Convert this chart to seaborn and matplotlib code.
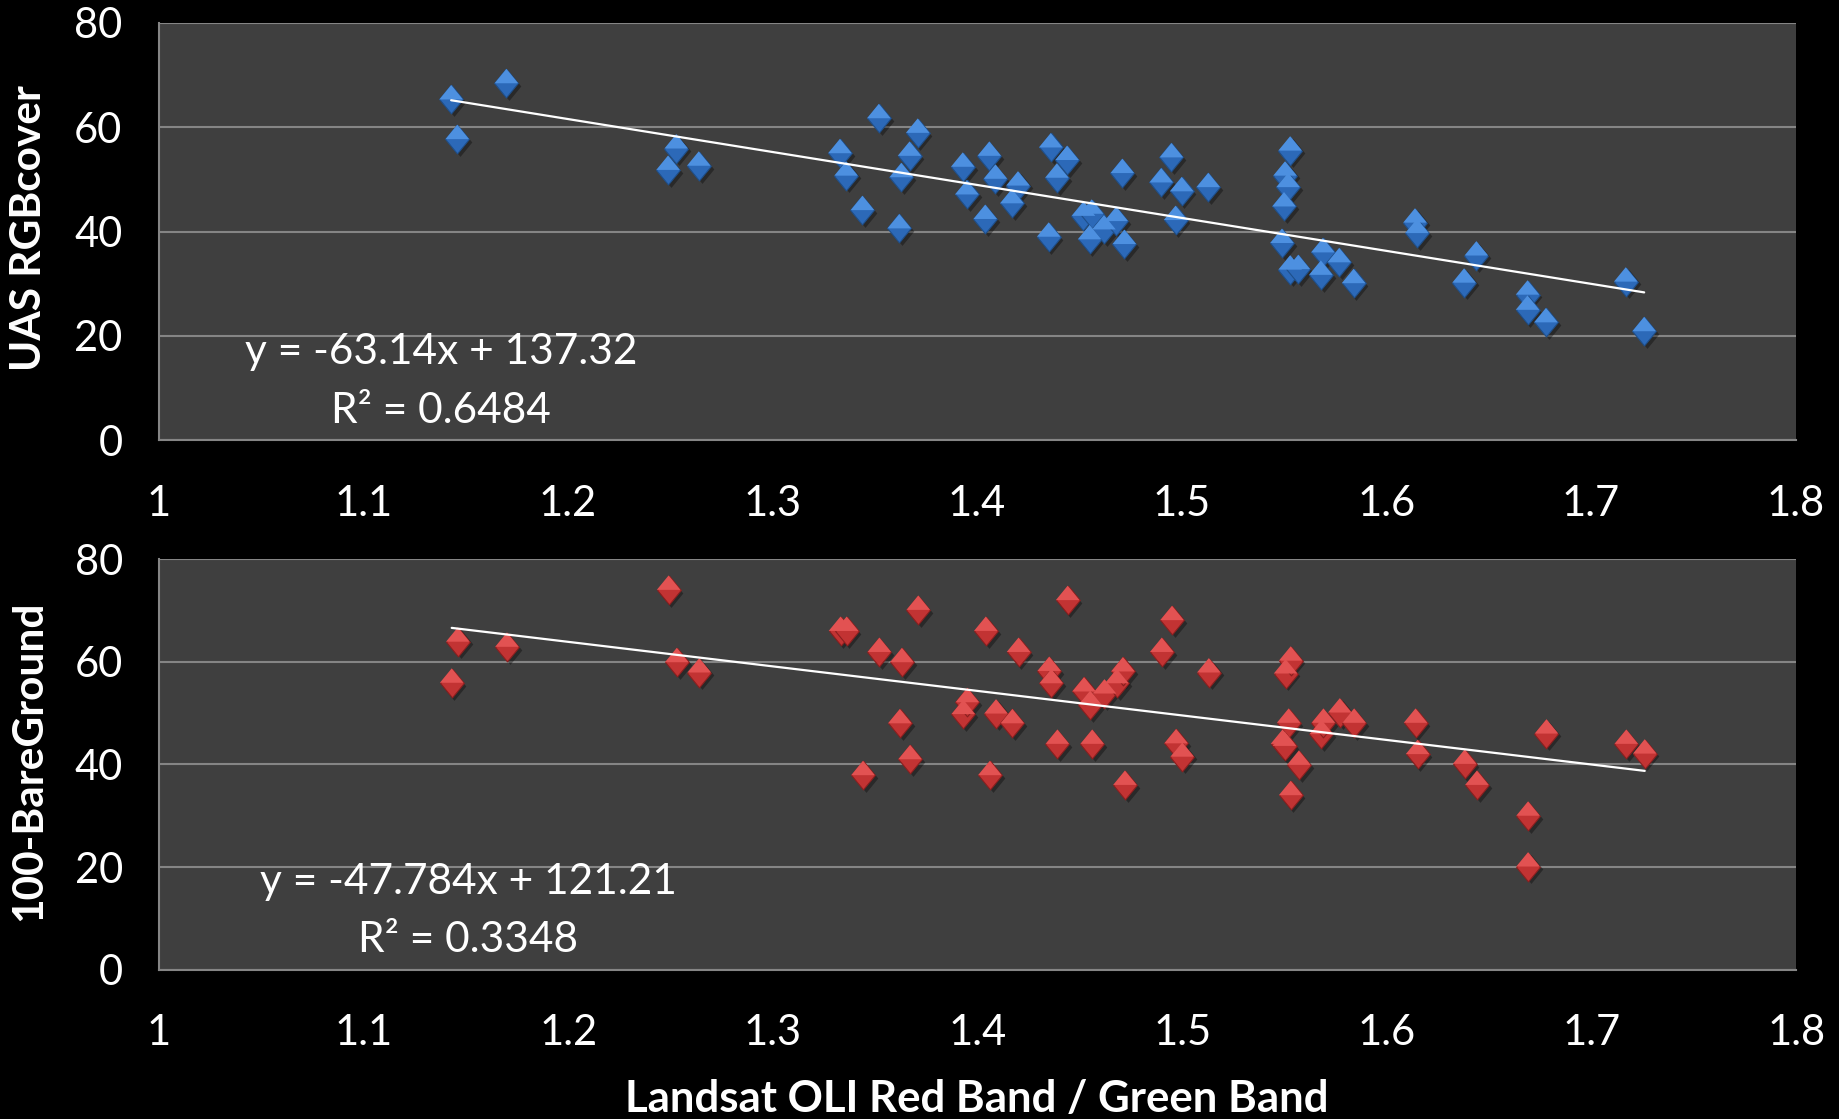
import numpy as np
import pandas as pd
import seaborn as sns
import matplotlib.pyplot as plt
from matplotlib.path import Path
from matplotlib.transforms import offset_copy

# Values (same samples on both panels)
ratio = [1.143, 1.146, 1.170, 1.249, 1.253, 1.264, 1.333, 1.336, 1.344, 1.352,
         1.362, 1.363, 1.367, 1.371, 1.393, 1.395, 1.404, 1.406, 1.409, 1.417,
         1.420, 1.435, 1.436, 1.439, 1.444, 1.452, 1.455, 1.456, 1.462, 1.468,
         1.471, 1.472, 1.490, 1.495, 1.497, 1.500, 1.513, 1.549, 1.550, 1.5505,
         1.552, 1.553, 1.553, 1.557, 1.568, 1.569, 1.577, 1.584, 1.614, 1.615,
         1.638, 1.644, 1.669, 1.669, 1.678, 1.717, 1.726]
rgb_cover = [65.3, 57.7, 68.4, 51.8, 55.9, 52.6, 55.0, 50.7, 44.1, 61.7,
             40.6, 50.4, 54.5, 58.9, 52.4, 47.1, 42.4, 54.5, 50.1, 45.4,
             48.8, 39.0, 56.1, 50.3, 53.7, 43.0, 38.5, 43.4, 40.4, 42.0,
             51.2, 37.6, 49.4, 54.2, 42.2, 47.7, 48.5, 37.8, 44.8, 50.7,
             48.5, 55.5, 32.7, 32.8, 31.7, 36.0, 34.1, 30.1, 41.7, 39.7,
             30.2, 35.4, 27.9, 25.0, 22.6, 30.4, 20.9]
bare_cover = [55.9, 63.9, 62.9, 74.0, 59.9, 57.9, 66.0, 66.0, 37.9, 61.9,
              48.0, 59.9, 41.0, 70.1, 49.8, 52.1, 66.0, 37.9, 49.9, 48.0,
              61.9, 58.2, 55.8, 44.0, 72.0, 54.2, 51.6, 44.0, 53.8, 55.8,
              58.1, 36.0, 61.9, 68.1, 44.1, 41.5, 57.9, 44.0, 43.6, 57.7,
              48.1, 60.2, 34.0, 39.9, 45.9, 48.1, 50.1, 48.1, 48.1, 42.0,
              40.1, 36.0, 30.0, 20.1, 46.0, 44.0, 42.1]

# Excel trendline coefficients shown on the chart
fits = {"rgb": (-63.14, 137.32, "0.6484", "-63.14", "137.32"),
        "bare": (-47.784, 121.21, "0.3348", "-47.784", "121.21")}

x_ticks = [1.0, 1.1, 1.2, 1.3, 1.4, 1.5, 1.6, 1.7, 1.8]
x_tick_labels = ["1", "1.1", "1.2", "1.3", "1.4", "1.5", "1.6", "1.7", "1.8"]
y_ticks = [0, 20, 40, 60, 80]

df = pd.DataFrame({"ratio": ratio, "rgb": rgb_cover, "bare": bare_cover})

sns.set_style("dark")
plt.rcParams["font.family"] = ["Lato", "DejaVu Sans"]

fig = plt.figure(figsize=(18.39, 11.19), dpi=100, facecolor="black")

panels = [
    ("rgb", "UAS RGBcover", [0.0862, 0.6065, 0.8902, 0.3732],
     ("#4d90e0", "#2c69b8", "#1f4f8a"), (1.138, 16.9, 5.7)),
    ("bare", "100-BareGround", [0.0865, 0.1334, 0.8902, 0.3670],
     ("#e25252", "#c23333", "#8a1f1f"), (1.151, 17.1, 5.7)),
]

diamond = Path([(0, 1), (0.82, 0), (0, -1), (-0.82, 0), (0, 1)])
upper = Path([(0, 1), (0.82, 0), (-0.82, 0), (0, 1)])

for col, ylabel, rect, (c_top, c_bot, c_edge), (tx, ty1, ty2) in panels:
    ax = fig.add_axes(rect)
    ax.set_facecolor("#3f3f3f")

    # soft drop shadow under the markers
    shadow = offset_copy(ax.transData, fig=fig, x=2.0, y=-2.0, units="points")
    ax.scatter(df["ratio"], df[col], marker=diamond, s=430, color="black",
               alpha=0.35, linewidths=0, transform=shadow, zorder=2)
    sns.scatterplot(data=df, x="ratio", y=col, marker=diamond, s=430,
                    color=c_bot, edgecolor=c_edge, linewidth=0.8, ax=ax, zorder=3)
    sns.scatterplot(data=df, x="ratio", y=col, marker=upper, s=430,
                    color=c_top, edgecolor="none", linewidth=0, ax=ax, zorder=4)

    slope, icpt, r2, s_txt, i_txt = fits[col]
    xs = np.array([df["ratio"].min(), df["ratio"].max()])
    sns.lineplot(x=xs, y=slope * xs + icpt, color="white", linewidth=1.6,
                 ax=ax, zorder=5)

    ax.text(tx, ty1, f"y = {s_txt}x + {i_txt}", color="white", fontsize=30.5,
            ha="center", va="center", zorder=6)
    ax.text(tx, ty2, f"R² = {r2}", color="white", fontsize=30.5,
            ha="center", va="center", zorder=6)

    ax.set_xlim(1, 1.8)
    ax.set_ylim(0, 80)
    ax.set_xticks(x_ticks)
    ax.set_xticklabels(x_tick_labels)
    ax.set_yticks(y_ticks)
    ax.grid(axis="y", color="#858585", linewidth=1.5)
    ax.grid(axis="x", visible=False)
    ax.set_axisbelow(True)
    for side in ["top", "right"]:
        ax.spines[side].set_visible(False)
    for side in ["left", "bottom"]:
        ax.spines[side].set_visible(True)
        ax.spines[side].set_color("#858585")
        ax.spines[side].set_linewidth(1.5)
    ax.tick_params(axis="both", direction="out", length=11, width=1.5,
                   color="#858585", labelcolor="white", labelsize=30, pad=21)
    ax.tick_params(axis="y", pad=15)
    ax.set_xlabel("")
    ax.set_ylabel("")
    fig.text(0.0158, rect[1] + rect[3] / 2 + 0.003, ylabel, rotation=90,
             color="white", fontsize=30.5, fontweight="bold",
             ha="center", va="center")

fig.text(0.531, 0.018, "Landsat OLI Red Band / Green Band", color="white",
         fontsize=31.5, fontweight="bold", ha="center", va="center")

fig.savefig("out.png", dpi=100, facecolor="black")
